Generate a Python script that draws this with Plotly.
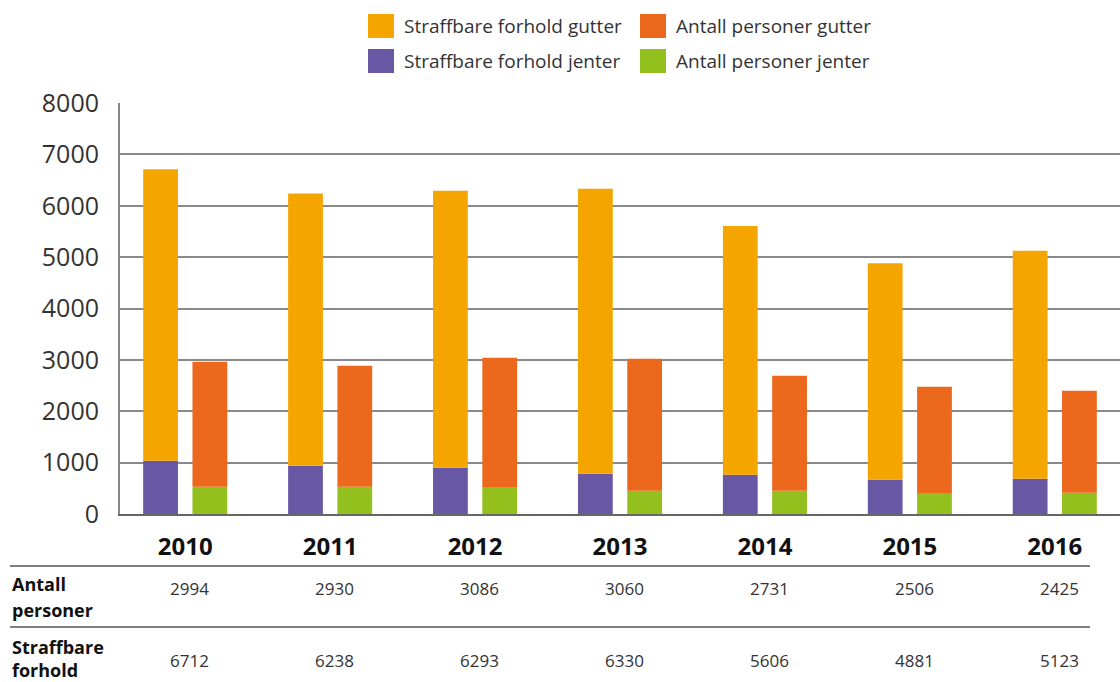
import plotly.graph_objects as go

# ---------------- data ----------------
years = ["2010", "2011", "2012", "2013", "2014", "2015", "2016"]

straffbare_jenter = [1037, 940, 901, 784, 765, 668, 687]
straffbare_gutter = [5675, 5298, 5392, 5546, 4841, 4213, 4436]

personer_jenter = [531, 531, 512, 453, 453, 395, 414]
personer_gutter = [2433, 2356, 2530, 2570, 2239, 2083, 1986]

tabell_antall_personer = ["2994", "2930", "3086", "3060", "2731", "2506", "2425"]
tabell_straffbare_forhold = ["6712", "6238", "6293", "6330", "5606", "4881", "5123"]

series_names = ["Straffbare forhold gutter", "Antall personer gutter",
                "Straffbare forhold jenter", "Antall personer jenter"]
colors = {"Straffbare forhold gutter": "#F5A500",
          "Antall personer gutter": "#EB681C",
          "Straffbare forhold jenter": "#6857A3",
          "Antall personer jenter": "#93C01C"}

# ---------------- geometry helpers ----------------
# body margin is removed by the post script, so figure starts at window (0,0)
OX, OY = 0, 0
W, H = 1120 - OX, 682 - OY
PLOT_LEFT, PLOT_TOP, PLOT_BOTTOM, PLOT_RIGHT = 120, 103, 514, 1120
L = PLOT_LEFT - OX
T = PLOT_TOP - OY
R = 0
B = H - (PLOT_BOTTOM - OY)
PW, PH = W - L - R, H - T - B


def px(xs):
    return (xs - OX - L) / PW


def py(ys):
    return (H - B - (ys - OY)) / PH


idx = list(range(len(years)))
BW = 0.24
OFF1 = -0.29
OFF2 = 0.05

fig = go.Figure()
fig.add_trace(go.Bar(x=idx, y=straffbare_jenter, width=BW, offset=OFF1,
                     name="Straffbare forhold jenter",
                     marker=dict(color=colors["Straffbare forhold jenter"], line_width=0)))
fig.add_trace(go.Bar(x=idx, y=straffbare_gutter, base=straffbare_jenter, width=BW, offset=OFF1,
                     name="Straffbare forhold gutter",
                     marker=dict(color=colors["Straffbare forhold gutter"], line_width=0)))
fig.add_trace(go.Bar(x=idx, y=personer_jenter, width=BW, offset=OFF2,
                     name="Antall personer jenter",
                     marker=dict(color=colors["Antall personer jenter"], line_width=0)))
fig.add_trace(go.Bar(x=idx, y=personer_gutter, base=personer_jenter, width=BW, offset=OFF2,
                     name="Antall personer gutter",
                     marker=dict(color=colors["Antall personer gutter"], line_width=0)))

FONT = "Open Sans"
shapes = []
annotations = []

# ---------------- legend (2x2) ----------------
leg_pos = [(368, 26), (640, 26), (368, 61), (640, 61)]
for name, (lx, ly) in zip(series_names, leg_pos):
    shapes.append(dict(type="rect", xref="paper", yref="paper",
                       x0=px(lx), x1=px(lx + 26), y0=py(ly + 12), y1=py(ly - 12),
                       fillcolor=colors[name], line_width=0, layer="above"))
    annotations.append(dict(xref="paper", yref="paper", x=px(lx + 34), y=py(ly),
                            xanchor="left", yanchor="middle", showarrow=False,
                            text=name, font=dict(family=FONT, size=19, color="#333333")))

# ---------------- table below chart ----------------
for yl in (566, 627):
    shapes.append(dict(type="line", xref="paper", yref="paper",
                       x0=px(10), x1=px(1090), y0=py(yl), y1=py(yl),
                       line=dict(color="#555555", width=1.5)))

row_labels = [("Antall", 584), ("personer", 610), ("Straffbare", 647), ("forhold", 670)]
for txt, yl in row_labels:
    annotations.append(dict(xref="paper", yref="paper", x=px(10), y=py(yl),
                            xanchor="left", yanchor="middle", showarrow=False,
                            text="<b>" + txt + "</b>",
                            font=dict(family=FONT, size=18, color="#111111")))

for i in idx:
    annotations.append(dict(xref="x", yref="paper", x=i + 0.03, y=py(588),
                            xanchor="center", yanchor="middle", showarrow=False,
                            text=tabell_antall_personer[i],
                            font=dict(family=FONT, size=17, color="#333333")))
    annotations.append(dict(xref="x", yref="paper", x=i + 0.03, y=py(660),
                            xanchor="center", yanchor="middle", showarrow=False,
                            text=tabell_straffbare_forhold[i],
                            font=dict(family=FONT, size=17, color="#333333")))

fig.update_layout(
    width=W, height=H, autosize=False,
    margin=dict(l=L, r=R, t=T, b=B, pad=0),
    paper_bgcolor="white", plot_bgcolor="white",
    barmode="overlay",
    showlegend=False,
    hovermode=False,
    shapes=shapes,
    annotations=annotations,
    xaxis=dict(range=[-0.45, 6.45], tickmode="array", tickvals=idx, ticktext=years,
               showgrid=False, zeroline=False, showline=True, linecolor="#666666",
               linewidth=2, ticks="", ticklabelstandoff=10,
               tickfont=dict(family=FONT, size=24, color="#111111", weight="bold")),
    yaxis=dict(range=[0, 8000], dtick=1000, showgrid=True, gridcolor="#8a8a8a",
               gridwidth=2, zeroline=False, showline=True, linecolor="#888888",
               linewidth=2, ticks="", ticklabelstandoff=14,
               tickfont=dict(family=FONT, size=25, color="#333333")),
)

fig.write_html(
    "out.html",
    config={"displayModeBar": False, "staticPlot": True},
    post_script="document.body.style.margin='0';document.body.style.overflow='hidden';",
)
